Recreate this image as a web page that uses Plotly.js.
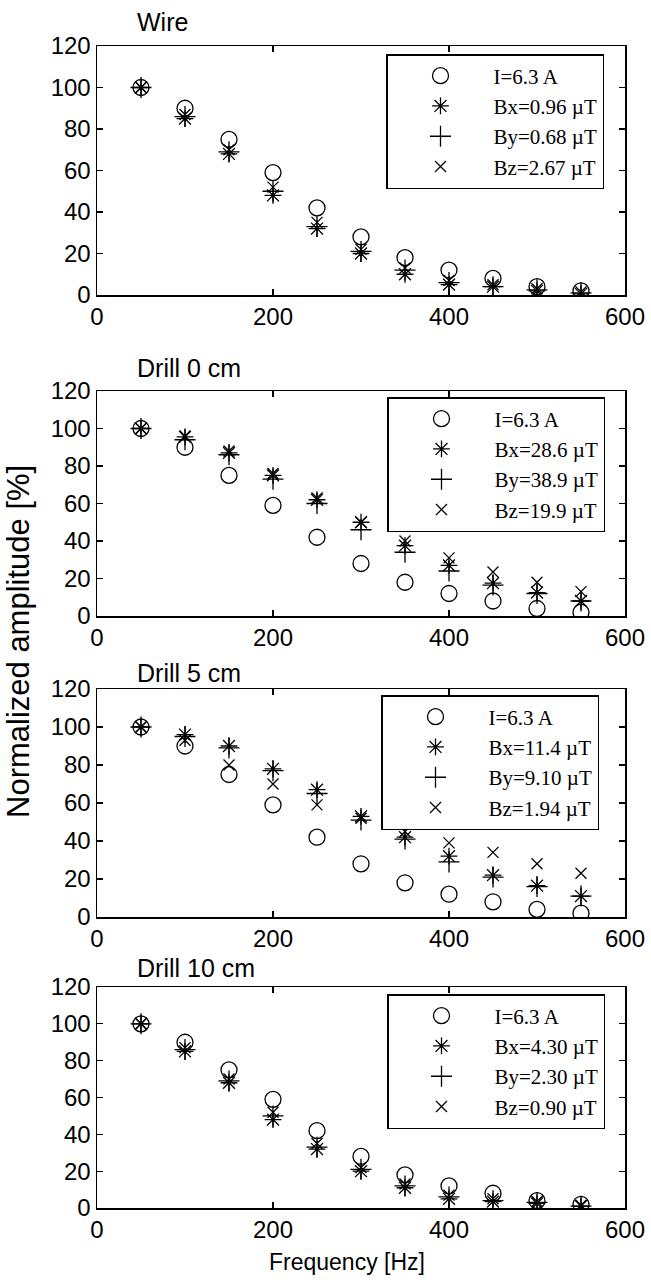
<!DOCTYPE html>
<html>
<head>
<meta charset="utf-8">
<script src="https://cdn.plot.ly/plotly-3.0.1.min.js"></script>
<style>html,body{margin:0;padding:0;background:#fff;}#chart{width:651px;height:1280px;}</style>
</head>
<body>
<div id="chart"></div>
<script>
// ---- data ----
const freq = [50, 100, 150, 200, 250, 300, 350, 400, 450, 500, 550];
const current = [100, 90, 75, 59, 42, 28, 18, 12, 8, 4, 2];

const panelTitles = ["Wire", "Drill 0 cm", "Drill 5 cm", "Drill 10 cm"];
const currentLabel = "I=6.3 A";
const bxLabels = ["Bx=0.96 \u00b5T", "Bx=28.6 \u00b5T", "Bx=11.4 \u00b5T", "Bx=4.30 \u00b5T"];
const byLabels = ["By=0.68 \u00b5T", "By=38.9 \u00b5T", "By=9.10 \u00b5T", "By=2.30 \u00b5T"];
const bzLabels = ["Bz=2.67 \u00b5T", "Bz=19.9 \u00b5T", "Bz=1.94 \u00b5T", "Bz=0.90 \u00b5T"];

const wireBx = [100, 85, 68, 48, 32, 20, 10, 5, 4, 2, 0.5];
const wireBy = [100, 86, 69, 50, 33, 21, 12, 6, 4, 2.5, 1];
const wireBz = [100, 87, 70, 52, 35, 22, 13, 7, 5, 3, 1.5];

const drill0Bx = [100, 95.5, 87, 75, 62, 50, 37.5, 27, 17.5, 12.5, 8];
const drill0By = [100, 94, 86, 73, 60, 46, 34, 24, 16.5, 12, 8];
const drill0Bz = [100, 96, 88, 76, 63, 50, 40, 31, 23.5, 18, 13];

const drill5Bx = [100, 96, 90, 78, 67, 53, 42, 32, 22, 16.5, 11];
const drill5By = [100, 95, 89, 77, 65, 51, 41, 29, 21, 16, 11];
const drill5Bz = [100, 93, 80, 70, 59, 52, 45, 39, 34, 28, 23];

const drill10Bx = [100, 85, 68, 48, 32, 20, 11, 5, 3.5, 2.5, 1];
const drill10By = [100, 86, 69, 50, 33, 21, 12, 6, 4, 3, 1];
const drill10Bz = [100, 87, 70, 52, 35, 22, 13, 7, 5, 3.5, 1.5];

const xTicks = [0, 200, 400, 600];
const yTicks = [0, 20, 40, 60, 80, 100, 120];

// ---- build ----
const panels = [
  [wireBx, wireBy, wireBz],
  [drill0Bx, drill0By, drill0Bz],
  [drill5Bx, drill5By, drill5Bz],
  [drill10Bx, drill10By, drill10Bz]
];
const H = 1280;
const plotTop = [46, 391, 689, 987];
const plotBot = [295, 616, 917, 1208];
const legTop = [54, 397, 695, 994];
const legLeft = [386, 387, 381, 387];
const titleY = [22, 368, 673, 968];
const L = 97, R = 625, W = R - L;
const sans = "Liberation Sans, Arial, Helvetica, sans-serif";

const traces = [];
const layout = {
  width: 651, height: 1280,
  margin: {l: L, r: 651 - R, t: 0, b: 0},
  paper_bgcolor: "#fff", plot_bgcolor: "#fff",
  font: {family: sans, size: 22, color: "#000"},
  showlegend: true,
  annotations: []
};
const symbols = ["circle-open", "asterisk-open", "cross-thin-open", "x-thin-open"];
const sizes = [16, 14, 15, 11];

panels.forEach((p, i) => {
  const n = i + 1;
  const xa = n === 1 ? "x" : "x" + n;
  const ya = n === 1 ? "y" : "y" + n;
  const lg = n === 1 ? "legend" : "legend" + n;
  const series = [current, p[0], p[1], p[2]];
  const names = [currentLabel, bxLabels[i], byLabels[i], bzLabels[i]];
  series.forEach((s, k) => {
    traces.push({
      x: freq, y: s, type: "scatter", mode: "markers", name: names[k],
      xaxis: xa, yaxis: ya, legend: lg,
      marker: {symbol: symbols[k], size: sizes[k], color: "#000", line: {color: "#000", width: 1.3}}
    });
  });
  const axCommon = {
    showline: true, linecolor: "#000", linewidth: 1.5, mirror: "ticks",
    ticks: "inside", ticklen: 6, tickwidth: 1.2, tickcolor: "#000",
    showgrid: false, zeroline: false, fixedrange: true,
    tickfont: {family: sans, size: 24, color: "#000"}
  };
  layout["xaxis" + (n === 1 ? "" : n)] = Object.assign({}, axCommon, {
    range: [0, 600], tickvals: xTicks, ticktext: xTicks.map(String),
    anchor: ya, domain: [0, 1]
  });
  layout["yaxis" + (n === 1 ? "" : n)] = Object.assign({}, axCommon, {
    range: [0, 120], tickvals: yTicks, ticktext: yTicks.map(String),
    anchor: xa, domain: [1 - plotBot[i] / H, 1 - plotTop[i] / H]
  });
  layout[lg] = {
    x: (legLeft[i] - L) / W, y: 1 - legTop[i] / H, xanchor: "left", yanchor: "top",
    xref: "paper", yref: "paper",
    bordercolor: "#000", borderwidth: 1.5, bgcolor: "#fff",
    font: {family: "Liberation Serif, Times New Roman, serif", size: 21, color: "#000"},
    itemwidth: 96, tracegroupgap: 0
  };
  layout.annotations.push({
    text: panelTitles[i], xref: "paper", yref: "paper",
    x: (135 - L) / W, y: 1 - titleY[i] / H, xanchor: "left", yanchor: "middle",
    showarrow: false, font: {family: sans, size: 25, color: "#000"}
  });
});

layout.annotations.push({
  text: "Normalized amplitude [%]", xref: "paper", yref: "paper",
  x: (18 - L) / W, y: 1 - 642 / H, xanchor: "center", yanchor: "middle",
  textangle: -90, showarrow: false,
  font: {family: sans, size: 31, color: "#000"}
});
layout.annotations.push({
  text: "Frequency [Hz]", xref: "paper", yref: "paper",
  x: (347 - L) / W, y: 1 - 1262 / H, xanchor: "center", yanchor: "middle",
  showarrow: false,
  font: {family: sans, size: 23, color: "#000"}
});

Plotly.newPlot("chart", traces, layout, {displayModeBar: false, staticPlot: true});
</script>
</body>
</html>
